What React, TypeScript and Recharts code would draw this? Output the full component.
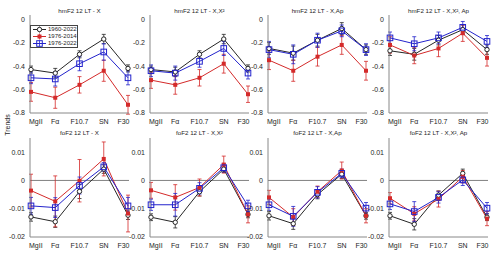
import React from 'react';
import { LineChart, Line, XAxis, YAxis, ErrorBar, ReferenceLine, Legend } from 'recharts';

const categories = ['MgII', 'Fα', 'F10.7', 'SN', 'F30'];
const periods = ['1960-2022', '1976-2014', '1976-2022'];

// hmF2 12 LT - X
const hmX_6022 = [-0.43, -0.46, -0.30, -0.17, -0.42];
const hmX_6022_err = [0.03, 0.04, 0.03, 0.04, 0.03];
const hmX_7614 = [-0.62, -0.67, -0.56, -0.44, -0.73];
const hmX_7614_err = [0.08, 0.09, 0.07, 0.09, 0.08];
const hmX_7622 = [-0.50, -0.51, -0.38, -0.28, -0.50];
const hmX_7622_err = [0.05, 0.06, 0.06, 0.07, 0.06];

// hmF2 12 LT - X,X²
const hmXX_6022 = [-0.43, -0.45, -0.30, -0.17, -0.42];
const hmXX_6022_err = [0.03, 0.04, 0.03, 0.04, 0.03];
const hmXX_7614 = [-0.52, -0.56, -0.50, -0.38, -0.64];
const hmXX_7614_err = [0.07, 0.08, 0.07, 0.08, 0.07];
const hmXX_7622 = [-0.44, -0.46, -0.36, -0.25, -0.46];
const hmXX_7622_err = [0.05, 0.06, 0.05, 0.06, 0.05];

// hmF2 12 LT - X,Ap
const hmXAp_6022 = [-0.25, -0.29, -0.18, -0.08, -0.26];
const hmXAp_6022_err = [0.05, 0.06, 0.05, 0.05, 0.04];
const hmXAp_7614 = [-0.35, -0.44, -0.32, -0.22, -0.44];
const hmXAp_7614_err = [0.08, 0.09, 0.08, 0.08, 0.08];
const hmXAp_7622 = [-0.26, -0.30, -0.18, -0.10, -0.26];
const hmXAp_7622_err = [0.07, 0.08, 0.06, 0.05, 0.05];

// hmF2 12 LT - X,X², Ap
const hmXXAp_6022 = [-0.27, -0.30, -0.18, -0.09, -0.26];
const hmXXAp_6022_err = [0.04, 0.05, 0.04, 0.04, 0.04];
const hmXXAp_7614 = [-0.22, -0.31, -0.25, -0.12, -0.33];
const hmXXAp_7614_err = [0.07, 0.07, 0.07, 0.07, 0.07];
const hmXXAp_7622 = [-0.16, -0.21, -0.16, -0.07, -0.19];
const hmXXAp_7622_err = [0.05, 0.06, 0.05, 0.05, 0.05];

// foF2 12 LT - X
const foX_6022 = [-0.0129, -0.0146, -0.0039, 0.0040, -0.0123];
const foX_6022_err = [0.0015, 0.002, 0.0025, 0.0015, 0.0015];
const foX_7614 = [-0.0036, -0.0074, -0.0001, 0.0076, -0.0117];
const foX_7614_err = [0.0058, 0.009, 0.0075, 0.006, 0.0065];
const foX_7622 = [-0.0090, -0.0096, -0.0018, 0.0048, -0.0090];
const foX_7622_err = [0.003, 0.0035, 0.003, 0.0015, 0.003];

// foF2 12 LT - X,X²
const foXX_6022 = [-0.0130, -0.0148, -0.0040, 0.0040, -0.0120];
const foXX_6022_err = [0.0012, 0.002, 0.0015, 0.0012, 0.0012];
const foXX_7614 = [-0.0035, -0.0060, -0.0025, 0.0056, -0.0120];
const foXX_7614_err = [0.0028, 0.0045, 0.003, 0.003, 0.003];
const foXX_7622 = [-0.0086, -0.0086, -0.0028, 0.0045, -0.0090];
const foXX_7622_err = [0.002, 0.004, 0.002, 0.0015, 0.002];

// foF2 12 LT - X,Ap
const foXAp_6022 = [-0.0125, -0.0153, -0.0050, 0.0022, -0.0125];
const foXAp_6022_err = [0.0015, 0.002, 0.0015, 0.0015, 0.0012];
const foXAp_7614 = [-0.0060, -0.0130, -0.0040, 0.0035, -0.0125];
const foXAp_7614_err = [0.0025, 0.003, 0.002, 0.003, 0.0025];
const foXAp_7622 = [-0.0086, -0.0127, -0.0042, 0.0025, -0.0098];
const foXAp_7622_err = [0.002, 0.0035, 0.002, 0.0015, 0.002];

// foF2 12 LT - X,X², Ap
const foXXAp_6022 = [-0.0125, -0.0155, -0.0052, 0.0025, -0.0130];
const foXXAp_6022_err = [0.0012, 0.002, 0.0015, 0.0015, 0.0012];
const foXXAp_7614 = [-0.0063, -0.0118, -0.0066, 0.0013, -0.0135];
const foXXAp_7614_err = [0.002, 0.0025, 0.0028, 0.0022, 0.0025];
const foXXAp_7622 = [-0.0083, -0.0110, -0.0060, 0.0002, -0.0098];
const foXXAp_7622_err = [0.002, 0.0035, 0.002, 0.002, 0.002];

const hmTicks = [-0.8, -0.6, -0.4, -0.2, 0];
const foTicks = [-0.02, -0.01, 0, 0.01];

const FONT = '"Liberation Sans", Arial, sans-serif';
const colors = ['#262626', '#d42a2a', '#2323cc'];
const plotLefts = [30, 150, 268, 389];
const PLOT_W = 99;
const Y_W = 32;
const R_M = 8;

const rows = [
  { top: 15, height: 98, domain: [-0.8, 0.035], ticks: hmTicks, zero: false, titleMid: 11 },
  { top: 138, height: 99, domain: [-0.02, 0.015], ticks: foTicks, zero: true, titleMid: 132.5 },
];

const panels = [
  { title: 'hmF2 12 LT - X', row: 0, col: 0, s: [[hmX_6022, hmX_6022_err], [hmX_7614, hmX_7614_err], [hmX_7622, hmX_7622_err]] },
  { title: 'hmF2 12 LT - X,X²', row: 0, col: 1, s: [[hmXX_6022, hmXX_6022_err], [hmXX_7614, hmXX_7614_err], [hmXX_7622, hmXX_7622_err]] },
  { title: 'hmF2 12 LT - X,Ap', row: 0, col: 2, s: [[hmXAp_6022, hmXAp_6022_err], [hmXAp_7614, hmXAp_7614_err], [hmXAp_7622, hmXAp_7622_err]] },
  { title: 'hmF2 12 LT - X,X², Ap', row: 0, col: 3, s: [[hmXXAp_6022, hmXXAp_6022_err], [hmXXAp_7614, hmXXAp_7614_err], [hmXXAp_7622, hmXXAp_7622_err]] },
  { title: 'foF2 12 LT - X', row: 1, col: 0, s: [[foX_6022, foX_6022_err], [foX_7614, foX_7614_err], [foX_7622, foX_7622_err]] },
  { title: 'foF2 12 LT - X,X²', row: 1, col: 1, s: [[foXX_6022, foXX_6022_err], [foXX_7614, foXX_7614_err], [foXX_7622, foXX_7622_err]] },
  { title: 'foF2 12 LT - X,Ap', row: 1, col: 2, s: [[foXAp_6022, foXAp_6022_err], [foXAp_7614, foXAp_7614_err], [foXAp_7622, foXAp_7622_err]] },
  { title: 'foF2 12 LT - X,X², Ap', row: 1, col: 3, s: [[foXXAp_6022, foXXAp_6022_err], [foXXAp_7614, foXXAp_7614_err], [foXXAp_7622, foXXAp_7622_err]] },
];

const keys = ['a', 'b', 'c'];

const Marker = ({ idx, cx, cy }: { idx: number; cx: number; cy: number }) => {
  if (idx === 0) return <circle cx={cx} cy={cy} r={2.2} fill="#fff" stroke={colors[0]} strokeWidth={1} />;
  if (idx === 1) return <rect x={cx - 2} y={cy - 2} width={4} height={4} fill={colors[1]} />;
  return <rect x={cx - 2.8} y={cy - 2.8} width={5.6} height={5.6} fill="none" stroke={colors[2]} strokeWidth={1} />;
};

const makeDot = (idx: number) => (p: any) => {
  if (p.cx == null || p.cy == null) return <g key={p.key} />;
  return <g key={p.key}><Marker idx={idx} cx={p.cx} cy={p.cy} /></g>;
};

// MATLAB-like: outer labels pulled inside the box
const XTick = (props: any) => {
  const { x, y, payload, index } = props;
  const last = categories.length - 1;
  const anchor = index === 0 ? 'start' : index === last ? 'end' : 'middle';
  const dx = index === 0 ? -2 : index === last ? 1.5 : 0;
  return (
    <text x={x + dx} y={y} dy="0.71em" textAnchor={anchor} fontSize={7} fill="#262626" fontFamily={FONT}>
      {payload.value}
    </text>
  );
};

const renderLegend = (props: any) => {
  const items = (props.payload || []).slice(0, 3);
  return (
    <div style={{ background: '#fff', border: '1px solid #444', padding: '0px 2px', fontFamily: FONT, fontSize: 6, lineHeight: '7px', width: 48, boxSizing: 'border-box', whiteSpace: 'nowrap' }}>
      {items.map((it: any, i: number) => (
        <div key={it.value} style={{ display: 'flex', alignItems: 'center', height: 7 }}>
          <svg width={13} height={7} style={{ display: 'block', flex: 'none' }}>
            <line x1={0} x2={13} y1={3.5} y2={3.5} stroke={colors[i]} strokeWidth={1} />
            <line x1={6.5} x2={6.5} y1={0.5} y2={6.5} stroke={colors[i]} strokeWidth={0.8} />
            <Marker idx={i} cx={6.5} cy={3.5} />
          </svg>
          <span style={{ marginLeft: 2, color: '#262626' }}>{it.value}</span>
        </div>
      ))}
    </div>
  );
};

const fmt = (v: number) => (v === 0 ? '0' : String(v));

const Panel = ({ p }: { p: (typeof panels)[number] }) => {
  const r = rows[p.row];
  const data = categories.map((name, i) => {
    const d: any = { name };
    p.s.forEach(([vals, errs], k) => {
      d[keys[k]] = vals[i];
      d[keys[k] + 'Err'] = errs[i];
    });
    return d;
  });
  const left = plotLefts[p.col] - Y_W;
  const top = r.top - 2;
  const tickStyle = { fontSize: 7, fill: '#262626', fontFamily: FONT };
  return (
    <>
      <div style={{ position: 'absolute', left: plotLefts[p.col] - 10, top: r.titleMid - 4, width: PLOT_W + 20, textAlign: 'center', fontFamily: FONT, fontSize: 6.2, lineHeight: '8px', color: '#262626', whiteSpace: 'nowrap' }}>
        {p.title}
      </div>
      <div style={{ position: 'absolute', left, top }}>
        <LineChart width={Y_W + PLOT_W + R_M} height={2 + r.height + 16} data={data} margin={{ top: 2, right: R_M, bottom: 0, left: 0 }}>
          <XAxis dataKey="name" height={16} tick={<XTick />} tickLine={false} tickSize={4} tickMargin={2} padding={{ left: 1, right: 1 }} axisLine={{ stroke: '#888' }} interval={0} />
          <XAxis xAxisId="t" dataKey="name" orientation="top" height={0} tick={false} tickLine={false} axisLine={{ stroke: '#888' }} />
          <YAxis type="number" domain={r.domain} ticks={r.ticks} tickFormatter={fmt} width={Y_W} tick={tickStyle} tickLine={false} tickSize={3} tickMargin={2} axisLine={{ stroke: '#888' }} allowDataOverflow />
          <YAxis yAxisId="r" orientation="right" type="number" domain={r.domain} width={0} tick={false} tickLine={false} axisLine={{ stroke: '#888' }} />
          {r.zero && <ReferenceLine y={0} stroke="#808080" strokeWidth={1} />}
          {keys.map((k, i) => (
            <Line key={k} dataKey={k} name={periods[i]} type="linear" stroke={colors[i]} strokeWidth={1} dot={makeDot(i)} activeDot={false} isAnimationActive={false}>
              <ErrorBar dataKey={k + 'Err'} direction="y" width={2} stroke={colors[i]} strokeWidth={0.8} />
            </Line>
          ))}
          {p.row === 0 && p.col === 0 && (
            <Legend content={renderLegend} layout="vertical" align="center" verticalAlign="middle" wrapperStyle={{ left: 32, top: 12, width: 'auto', height: 'auto' }} />
          )}
        </LineChart>
      </div>
    </>
  );
};

export default function App() {
  return (
    <div style={{ position: 'absolute', left: 0, top: 0, width: 500, height: 253, background: '#fff', overflow: 'hidden' }}>
      {panels.map((p) => (
        <Panel key={p.title} p={p} />
      ))}
      <div style={{ position: 'absolute', left: 8 - 15, top: 125 - 4, width: 30, textAlign: 'center', transform: 'rotate(-90deg)', transformOrigin: '15px 4px', fontFamily: FONT, fontSize: 7, lineHeight: '8px', color: '#262626' }}>
        Trends
      </div>
    </div>
  );
}
